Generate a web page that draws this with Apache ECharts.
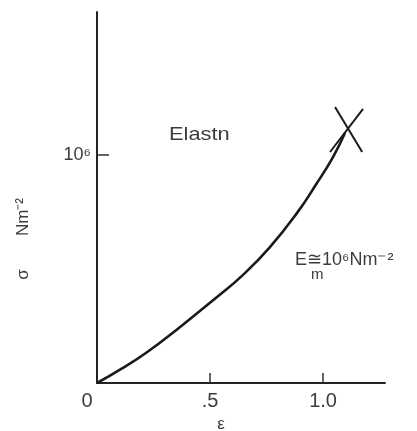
<!DOCTYPE html>
<html><head><meta charset="utf-8">
<script src="https://cdn.jsdelivr.net/npm/echarts@6/dist/echarts.min.js"></script>
<style>html,body{margin:0;padding:0;background:#fff}#c{width:417px;height:431px}</style>
</head><body><div id="c"></div>
<script>
// strain (epsilon) and stress (sigma, in units of 10^6 N m^-2)
const strain = [0, 0.111, 0.221, 0.354, 0.531, 0.646, 0.765, 0.885, 0.973, 1.044, 1.097];
const stress = [0, 0.064, 0.135, 0.235, 0.377, 0.474, 0.596, 0.746, 0.877, 0.991, 1.096];
// failure cross
const crossA = [[1.053, 1.21], [1.173, 1.013]];
const crossB = [[1.177, 1.202], [1.031, 1.013]];
const xTicks = [0.5, 1.0];
const xLabels = [0, 0.5, 1.0];
const yTicks = [1.0];

const chart = echarts.init(document.getElementById('c'));
const font = 'Liberation Sans, Arial, sans-serif';
const txt = '#3c3c3c';
chart.setOption({
  animation: false,
  grid: {left: 97, right: 32, top: 12, bottom: 48, containLabel: false, outerBoundsMode: 'none'},
  xAxis: {
    type: 'value', min: 0, max: 1.274,
    splitLine: {show: false},
    axisLine: {lineStyle: {color: '#222', width: 2}},
    axisTick: {show: true, inside: true, length: 10, customValues: xTicks, lineStyle: {color: '#333', width: 1.5}},
    axisLabel: {
      customValues: xLabels, margin: 8, fontSize: 20, color: txt, fontFamily: font,
      formatter: v => v === 0 ? '{z|0}' : (v === 0.5 ? '.5' : '1.0'),
      rich: {z: {fontSize: 20, color: txt, fontFamily: font, padding: [0, 20, 0, 0]}}
    },
    name: 'ε', nameLocation: 'middle', nameGap: 32,
    nameTextStyle: {fontSize: 17, color: txt, fontFamily: font, padding: [0, 40, 0, 0]}
  },
  yAxis: {
    type: 'value', min: 0, max: 1.627,
    splitLine: {show: false},
    axisLine: {lineStyle: {color: '#222', width: 2}},
    axisTick: {show: true, inside: true, length: 12, customValues: yTicks, lineStyle: {color: '#333', width: 1.5}},
    axisLabel: {
      customValues: yTicks, margin: 6, fontSize: 18, color: txt, fontFamily: font,
      formatter: () => '10⁶'
    }
  },
  graphic: [
    {type: 'text', left: 15, top: 198, rotation: Math.PI / 2,
      style: {text: 'σ       Nm⁻²', fontSize: 17, fill: txt, fontFamily: font}},
    {type: 'text', left: 169, top: 125, scaleX: 1.15,
      style: {text: 'Elastn', fontSize: 19, fill: txt, fontFamily: font}},
    {type: 'text', left: 295, top: 251,
      style: {text: 'E≅10⁶Nm⁻²', fontSize: 18, fill: txt, fontFamily: font}},
    {type: 'text', left: 311, top: 267, style: {text: 'm', fontSize: 15, fill: txt, fontFamily: font}}
  ],
  series: [
    {type: 'line', data: strain.map((x, i) => [x, stress[i]]), smooth: true, symbol: 'none',
      lineStyle: {color: '#1a1a1a', width: 2.6}},
    {type: 'line', data: crossA, symbol: 'none', lineStyle: {color: '#1a1a1a', width: 2}},
    {type: 'line', data: crossB, symbol: 'none', lineStyle: {color: '#1a1a1a', width: 2}}
  ]
});
</script></body></html>
